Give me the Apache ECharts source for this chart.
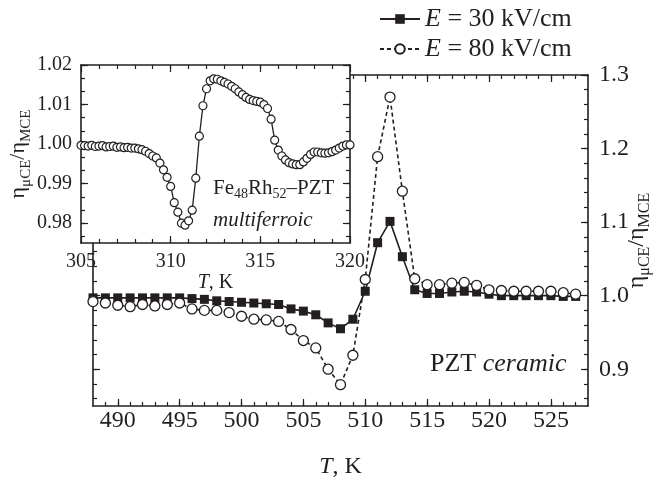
<!DOCTYPE html>
<html>
<head>
<meta charset="utf-8">
<script src="https://cdn.jsdelivr.net/npm/echarts@6/dist/echarts.min.js"></script>
<style>
html, body { margin: 0; padding: 0; background: #fff; }
#main { width: 662px; height: 484px; }
</style>
</head>
<body>
<div id="main"></div>
<script>
// main plot: PZT ceramic, temperature in K
var mainT = [488, 489, 490, 491, 492, 493, 494, 495, 496, 497,
	498, 499, 500, 501, 502, 503, 504, 505, 506, 507,
	508, 509, 510, 511, 512, 513, 514, 515, 516, 517,
	518, 519, 520, 521, 522, 523, 524, 525, 526, 527];
var e30 = [0.997, 0.997, 0.997, 0.997, 0.997, 0.997, 0.997, 0.997, 0.996, 0.995,
	0.993, 0.992, 0.991, 0.990, 0.989, 0.988, 0.982, 0.979, 0.974, 0.963,
	0.955, 0.968, 1.006, 1.072, 1.101, 1.053, 1.008, 1.003, 1.003, 1.005,
	1.006, 1.005, 1.002, 1.000, 1.000, 1.000, 1.000, 1.000, 0.999, 0.999];
var e80 = [0.992, 0.990, 0.987, 0.985, 0.988, 0.986, 0.988, 0.990, 0.982, 0.980,
	0.980, 0.977, 0.972, 0.968, 0.967, 0.965, 0.954, 0.939, 0.929, 0.900,
	0.879, 0.919, 1.022, 1.189, 1.270, 1.142, 1.023, 1.015, 1.015, 1.017,
	1.018, 1.014, 1.008, 1.007, 1.006, 1.006, 1.006, 1.006, 1.004, 1.002];

// inset: Fe48Rh52-PZT multiferroic
var insetT = [305.0, 305.2, 305.4, 305.6, 305.8, 306.0, 306.2, 306.4, 306.6, 306.8,
	307.0, 307.2, 307.4, 307.6, 307.8, 308.0, 308.2, 308.4, 308.6, 308.8,
	309.0, 309.2, 309.4, 309.6, 309.8, 310.0, 310.2, 310.4, 310.6, 310.8,
	311.0, 311.2, 311.4, 311.6, 311.8, 312.0, 312.2, 312.4, 312.6, 312.8,
	313.0, 313.2, 313.4, 313.6, 313.8, 314.0, 314.2, 314.4, 314.6, 314.8,
	315.0, 315.2, 315.4, 315.6, 315.8, 316.0, 316.2, 316.4, 316.6, 316.8,
	317.0, 317.2, 317.4, 317.6, 317.8, 318.0, 318.2, 318.4, 318.6, 318.8,
	319.0, 319.2, 319.4, 319.6, 319.8, 320.0];
var insetRatio = [0.9997, 0.9996, 0.9995, 0.9997, 0.9994, 0.9995, 0.9996, 0.9993, 0.9994, 0.9995,
	0.9992, 0.9993, 0.9991, 0.9992, 0.9990, 0.9990, 0.9988, 0.9986, 0.9982, 0.9976,
	0.9970, 0.9965, 0.9952, 0.9935, 0.9916, 0.9893, 0.9852, 0.9828, 0.9800, 0.9795,
	0.9806, 0.9833, 0.9914, 1.0020, 1.0097, 1.0140, 1.0160, 1.0165, 1.0164, 1.0160,
	1.0156, 1.0152, 1.0146, 1.0140, 1.0132, 1.0125, 1.0118, 1.0113, 1.0110, 1.0108,
	1.0106, 1.0100, 1.0090, 1.0063, 1.0010, 0.9985, 0.9970, 0.9960, 0.9953, 0.9950,
	0.9948, 0.9948, 0.9955, 0.9964, 0.9974, 0.9980, 0.9980, 0.9978, 0.9977, 0.9978,
	0.9981, 0.9985, 0.9990, 0.9995, 0.9998, 0.9998];

// tick labels
var mainXTicks = [490, 495, 500, 505, 510, 515, 520, 525];
var mainYTicks = [0.9, 1.0, 1.1, 1.2, 1.3];
var insetXTicks = [305, 310, 315, 320];
var insetYTicks = [0.98, 0.99, 1.00, 1.01, 1.02];

var FONT = 'Liberation Serif';
var INK = '#231f20';

function steps(from, to, step) {
	var out = [];
	var n = Math.round((to - from) / step);
	for (var i = 0; i <= n; i++) out.push(+(from + i * step).toFixed(5));
	return out;
}

// one axis = one side of a frame, with either major or minor ticks
function ax(grid, pos, min, max, ticks, len, extra) {
	extra = extra || {};
	var a = {
		type: 'value',
		gridIndex: grid,
		position: pos,
		min: min,
		max: max,
		z: extra.z || 0,
		axisLine: { show: !!extra.line, onZero: false, lineStyle: { color: INK, width: 1.6 } },
		axisTick: { show: true, inside: true, length: len, customValues: ticks, lineStyle: { color: INK, width: 1.2 } },
		axisLabel: { show: false },
		splitLine: { show: false }
	};
	if (extra.labels) {
		a.axisLabel = {
			show: true,
			customValues: ticks,
			color: INK,
			fontFamily: FONT,
			fontSize: extra.fontSize,
			margin: extra.margin,
			formatter: extra.fmt
		};
	}
	if (extra.name) {
		a.name = extra.name;
		a.nameLocation = 'middle';
		a.nameGap = extra.nameGap;
		a.nameRotate = extra.nameRotate;
		a.nameTextStyle = extra.nameStyle;
		if (extra.free) a.nameMoveOverlap = false;
	}
	return a;
}

function etaName(size, sub) {
	return {
		color: INK,
		fontFamily: FONT,
		fontSize: size,
		rich: {
			e: { fontFamily: FONT, fontSize: size, color: INK },
			s: { fontFamily: FONT, fontSize: sub, color: INK, verticalAlign: 'bottom', lineHeight: size + 8 }
		}
	};
}

var tkName = function (size) {
	return {
		color: INK, fontFamily: FONT, fontSize: size,
		rich: {
			i: { fontFamily: FONT, fontSize: size, fontStyle: 'italic', color: INK },
			n: { fontFamily: FONT, fontSize: size, color: INK }
		}
	};
};

var myChart = echarts.init(document.getElementById('main'));

var mainXMinor = steps(489, 527, 1);
var mainYMinor = steps(0.86, 1.3, 0.02);
var insetXMinor = steps(306, 319, 1);
var insetYMinor = steps(0.98 - 0.01 / 3, 1.02, 0.01 / 3);

var option = {
	animation: false,
	backgroundColor: '#fff',
	grid: [
		{ left: 93, right: 74, top: 75, bottom: 78, outerBoundsMode: 'none' },
		{ left: 81, right: 312, top: 65, bottom: 241, outerBoundsMode: 'none', show: true, backgroundColor: '#fff', borderWidth: 0, z: 5 }
	],
	xAxis: [
		ax(0, 'bottom', 488, 528, mainXTicks, 7, {
			line: true, labels: true, fontSize: 24, margin: 3,
			fmt: function (v) { return String(v); },
			name: '{i|T}{n|, K}', nameGap: 49, nameStyle: tkName(24)
		}),
		ax(0, 'bottom', 488, 528, mainXMinor, 4),
		ax(0, 'top', 488, 528, mainXTicks, 7, { line: true }),
		ax(0, 'top', 488, 528, mainXMinor, 4),
		ax(1, 'bottom', 305, 320, insetXTicks, 7, {
			line: true, labels: true, fontSize: 20, margin: 9, z: 6,
			fmt: function (v) { return String(v); },
			name: '{i|T}{n|, K}', nameGap: 27, nameStyle: tkName(20)
		}),
		ax(1, 'bottom', 305, 320, insetXMinor, 4, { z: 6 }),
		ax(1, 'top', 305, 320, insetXTicks, 7, { line: true, z: 6 }),
		ax(1, 'top', 305, 320, insetXMinor, 4, { z: 6 })
	],
	yAxis: [
		ax(0, 'right', 0.85, 1.3, mainYTicks, 7, {
			line: true, labels: true, fontSize: 24, margin: 11,
			fmt: function (v) { return v.toFixed(1); },
			name: '{e|η}{s|μCE}{e|/η}{s|MCE}', nameGap: 33, nameRotate: 90, free: true,
			nameStyle: etaName(24, 16)
		}),
		ax(0, 'right', 0.85, 1.3, mainYMinor, 4),
		ax(0, 'left', 0.85, 1.3, mainYTicks, 7, { line: true }),
		ax(0, 'left', 0.85, 1.3, mainYMinor, 4),
		ax(1, 'left', 0.975, 1.02, insetYTicks, 7, {
			line: true, labels: true, fontSize: 20, margin: 9, z: 6,
			fmt: function (v) { return v.toFixed(2); },
			name: '{e|η}{s|μCE}{e|/η}{s|MCE}', nameGap: 47, nameRotate: 90, nameStyle: etaName(22, 15)
		}),
		ax(1, 'left', 0.975, 1.02, insetYMinor, 4, { z: 6 }),
		ax(1, 'right', 0.975, 1.02, insetYTicks, 7, { line: true, z: 6 }),
		ax(1, 'right', 0.975, 1.02, insetYMinor, 4, { z: 6 })
	],
	legend: {
		orient: 'vertical',
		left: 374,
		top: 1,
		itemWidth: 40,
		itemHeight: 12,
		itemGap: 4,
		data: ['E = 30 kV/cm', 'E = 80 kV/cm'],
		formatter: function (name) { return '{i|E}{n|' + name.slice(1) + '}'; },
		textStyle: {
			color: INK, fontFamily: FONT, fontSize: 26,
			rich: {
				i: { fontFamily: FONT, fontSize: 26, fontStyle: 'italic', color: INK },
				n: { fontFamily: FONT, fontSize: 26, color: INK }
			}
		}
	},
	graphic: [
		{
			type: 'text', left: 430, top: 351, z: 10,
			style: {
				text: '{n|PZT }{i|ceramic}',
				rich: {
					n: { fontFamily: FONT, fontSize: 26, fill: INK },
					i: { fontFamily: FONT, fontSize: 26, fontStyle: 'italic', fill: INK }
				}
			}
		},
		{
			type: 'text', left: 213, top: 178, z: 10,
			style: {
				text: '{n|Fe}{s|48}{n|Rh}{s|52}{n|–PZT}',
				rich: {
					n: { fontFamily: FONT, fontSize: 21, fill: INK, lineHeight: 26, verticalAlign: 'middle' },
					s: { fontFamily: FONT, fontSize: 14, fill: INK, lineHeight: 26, verticalAlign: 'bottom' }
				}
			}
		},
		{
			type: 'text', left: 213, top: 210, z: 10,
			style: {
				text: 'multiferroic',
				font: 'italic 21px "Liberation Serif"',
				fill: INK
			}
		}
	],
	series: [
		{
			name: 'E = 30 kV/cm',
			type: 'line',
			xAxisIndex: 0,
			yAxisIndex: 0,
			data: mainT.map(function (t, i) { return [t, e30[i]]; }),
			symbol: 'rect',
			symbolSize: 9,
			showAllSymbol: true,
			clip: true,
			itemStyle: { color: INK },
			lineStyle: { color: INK, width: 1.6 }
		},
		{
			name: 'E = 80 kV/cm',
			type: 'line',
			xAxisIndex: 0,
			yAxisIndex: 0,
			data: mainT.map(function (t, i) { return [t, e80[i]]; }),
			symbol: 'circle',
			symbolSize: 10,
			showAllSymbol: true,
			clip: true,
			itemStyle: { color: '#fff', borderColor: INK, borderWidth: 1.3 },
			lineStyle: { color: INK, width: 1.6, type: [4, 3] }
		},
		{
			type: 'line',
			xAxisIndex: 4,
			yAxisIndex: 4,
			z: 7,
			data: insetT.map(function (t, i) { return [t, insetRatio[i]]; }),
			symbol: 'circle',
			symbolSize: 8,
			showAllSymbol: true,
			itemStyle: { color: '#fff', borderColor: INK, borderWidth: 1.2 },
			lineStyle: { color: INK, width: 1.3 }
		}
	]
};
myChart.setOption(option);
</script>
</body>
</html>
